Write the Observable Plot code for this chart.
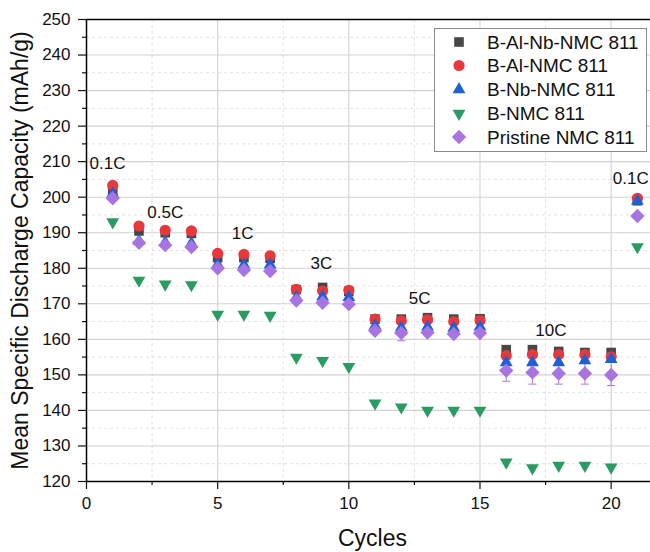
<!DOCTYPE html>
<html>
<head>
<meta charset="utf-8">
<script src="https://cdn.jsdelivr.net/npm/d3@7"></script>
<script src="https://cdn.jsdelivr.net/npm/@observablehq/plot@0.6"></script>
<style>
  body { margin: 0; background: #fff; }
  #wrap { position: relative; width: 650px; height: 552px; font-family: "Liberation Sans", Arial, sans-serif; }
  #legend { position: absolute; left: 434px; top: 28px; }
</style>
</head>
<body>
<div id="wrap"></div>
<script>
// Rate-capability test: mean specific discharge capacity per cycle
const cycles = [1, 2, 3, 4, 5, 6, 7, 8, 9, 10, 11, 12, 13, 14, 15, 16, 17, 18, 19, 20, 21];

const seriesNames = ["B-Al-Nb-NMC 811", "B-Al-NMC 811", "B-Nb-NMC 811", "B-NMC 811", "Pristine NMC 811"];

const bAlNbNmc = [202.0, 190.5, 190.0, 189.8, 183.0, 183.0, 182.8, 174.0, 174.6, 173.5, 165.7, 165.7, 166.1, 165.7, 165.8, 157.1, 157.1, 156.6, 156.3, 156.3, 199.0];
const bAlNmc   = [203.3, 191.9, 190.7, 190.5, 184.2, 183.9, 183.5, 174.1, 173.6, 173.8, 165.7, 165.2, 165.5, 165.0, 165.3, 155.4, 155.7, 155.7, 155.7, 155.1, 199.7];
const bNbNmc   = [201.0, 187.7, 187.3, 187.0, 181.1, 181.0, 181.0, 171.8, 172.0, 171.8, 163.8, 163.3, 163.5, 163.2, 163.5, 153.5, 153.5, 153.5, 154.0, 154.4, 198.9];
const bNmc     = [193.0, 176.6, 175.5, 175.3, 167.0, 167.0, 166.7, 154.9, 154.0, 152.3, 142.0, 140.9, 140.0, 140.0, 140.0, 125.4, 123.8, 124.5, 124.5, 124.0, 186.0];
const pristine = [199.7, 187.2, 186.5, 186.0, 180.0, 179.5, 179.2, 170.9, 170.3, 169.9, 162.4, 161.8, 161.9, 161.5, 161.8, 151.2, 150.7, 150.4, 150.4, 150.0, 194.7];
// standard deviation of the pristine cells
const pristineErr = [0, 0, 0, 0, 0, 0, 0, 0, 0, 0, 0, 2.2, 0, 0, 0, 3.0, 3.3, 3.0, 3.0, 3.0, 0];

// C-rate annotations
const rateLabels = ["0.1C", "0.5C", "1C", "3C", "5C", "10C", "0.1C"];
const rateX = [0.8, 3.0, 5.95, 8.95, 12.7, 17.7, 20.75];
const rateY = [209.6, 195.8, 189.9, 181.4, 171.4, 162.4, 205.2];

// axis ticks
const xMajor = [0, 5, 10, 15, 20];
const xMinor = [2.5, 7.5, 12.5, 17.5];
const yMajor = d3.range(120, 251, 10);
const yMinor = d3.range(125, 250, 10);

// marker shapes (fixed pixel sizes)
const SQ3 = Math.sqrt(3);
const symbols = {
  square:   { draw(c) { const h = 4.8; c.rect(-h, -h, 2 * h, 2 * h); } },
  circle:   { draw(c) { const r = 5.6; c.moveTo(r, 0); c.arc(0, 0, r, 0, 2 * Math.PI); } },
  triUp:    { draw(c) { const s = 12.8, h = s * SQ3 / 2; c.moveTo(0, -2 * h / 3); c.lineTo(s / 2, h / 3); c.lineTo(-s / 2, h / 3); c.closePath(); } },
  triDown:  { draw(c) { const s = 12.8, h = s * SQ3 / 2; c.moveTo(0, 2 * h / 3); c.lineTo(s / 2, -h / 3); c.lineTo(-s / 2, -h / 3); c.closePath(); } },
  diamond:  { draw(c) { const d = 7.2; c.moveTo(0, -d); c.lineTo(d, 0); c.lineTo(0, d); c.lineTo(-d, 0); c.closePath(); } },
  cap:      { draw(c) { c.moveTo(-4, 0); c.lineTo(4, 0); } }
};

const series = [
  { name: seriesNames[0], values: bAlNbNmc, color: "#474747", symbol: symbols.square },
  { name: seriesNames[1], values: bAlNmc,   color: "#e8383c", symbol: symbols.circle },
  { name: seriesNames[2], values: bNbNmc,   color: "#1f60d6", symbol: symbols.triUp },
  { name: seriesNames[3], values: bNmc,     color: "#2a9c62", symbol: symbols.triDown },
  { name: seriesNames[4], values: pristine, color: "#a874e2", symbol: symbols.diamond }
];

const rows = s => cycles.map((c, i) => ({ cycle: c, value: s.values[i] }));
const errRows = cycles.map((c, i) => ({ cycle: c, lo: pristine[i] - pristineErr[i], hi: pristine[i] + pristineErr[i] }))
  .filter((d, i) => pristineErr[i] > 0);

const font = "Liberation Sans, Arial, sans-serif";

const chart = Plot.plot({
  width: 650,
  height: 552,
  marginLeft: 86,
  marginTop: 19,
  marginBottom: 71,
  marginRight: 0,
  x: { domain: [0, 21.5] },
  y: { domain: [120, 250] },
  style: { fontFamily: font, fontSize: "17px", color: "#111", background: "#fff" },
  marks: [
    // grid
    Plot.gridX(xMinor, { stroke: "#d9d9d9", strokeOpacity: 1, strokeDasharray: "3,3", strokeWidth: 0.8 }),
    Plot.gridY(yMinor, { stroke: "#d9d9d9", strokeOpacity: 1, strokeDasharray: "3,3", strokeWidth: 0.8 }),
    Plot.gridX(xMajor.slice(1), { stroke: "#d2d2d2", strokeOpacity: 1, strokeWidth: 1.1 }),
    Plot.gridY(yMajor.slice(1, -1), { stroke: "#d2d2d2", strokeOpacity: 1, strokeWidth: 1.1 }),
    // axes
    Plot.axisY(yMajor, { tickSize: 8, tickPadding: 8, fontSize: 17, label: null, strokeWidth: 1.2 }),
    Plot.axisY(yMinor, { tickSize: 4, tickFormat: () => "", label: null, strokeWidth: 1.2 }),
    Plot.axisX(xMajor, { tickSize: 8, tickPadding: 7, fontSize: 17, label: null, strokeWidth: 1.2 }),
    Plot.axisX(xMinor, { tickSize: 4, tickFormat: () => "", label: null, strokeWidth: 1.2 }),
    Plot.ruleX([0], { stroke: "#000", strokeWidth: 1.5 }),
    Plot.ruleY([120], { stroke: "#000", strokeWidth: 1.5 }),
    Plot.ruleY([250], { stroke: "#000", strokeWidth: 1.5 }),
    // error bars for the pristine cells
    Plot.ruleX(errRows, { x: "cycle", y1: "lo", y2: "hi", stroke: series[4].color, strokeWidth: 1 }),
    Plot.dot(errRows, { x: "cycle", y: "lo", symbol: symbols.cap, stroke: series[4].color, strokeWidth: 1 }),
    // data markers
    ...series.map(s => Plot.dot(rows(s), { x: "cycle", y: "value", symbol: s.symbol, fill: s.color, stroke: "none", r: 6 })),
    // C-rate labels
    Plot.text(rateLabels, { x: (d, i) => rateX[i], y: (d, i) => rateY[i], text: d => d, fontSize: 17, fill: "#111" }),
    // axis titles
    Plot.text(["Mean Specific Discharge Capacity (mAh/g)"], { frameAnchor: "left", dx: -66, rotate: -90, textAnchor: "middle", fontSize: 23, fill: "#111" }),
    Plot.text(["Cycles"], { frameAnchor: "bottom", lineAnchor: "middle", dx: 4, dy: 57, fontSize: 23, fill: "#111" })
  ]
});

const wrap = document.getElementById("wrap");
wrap.appendChild(chart);

// legend box
const lw = 213, lh = 124, rowY = [14, 37.5, 61.5, 85.5, 109], symX = 25, textX = 53;
const legend = d3.create("svg").attr("id", "legend").attr("width", lw).attr("height", lh);
legend.append("rect").attr("x", 0.5).attr("y", 0.5).attr("width", lw - 1).attr("height", lh - 1)
  .attr("fill", "#fff").attr("stroke", "#8a8a8a").attr("stroke-width", 1);
series.forEach((s, i) => {
  const p = d3.path();
  s.symbol.draw(p);
  legend.append("path").attr("d", p.toString()).attr("fill", s.color)
    .attr("transform", `translate(${symX},${rowY[i]})`);
  legend.append("text").attr("x", textX).attr("y", rowY[i]).attr("dy", "0.35em")
    .attr("font-family", font).attr("font-size", 19).attr("fill", "#111").text(s.name);
});
wrap.appendChild(legend.node());
</script>
</body>
</html>
